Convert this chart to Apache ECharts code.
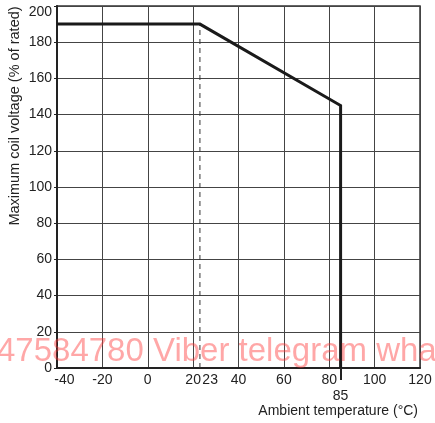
<!DOCTYPE html>
<html>
<head>
<meta charset="utf-8">
<script src="https://cdn.jsdelivr.net/npm/echarts@6/dist/echarts.min.js"></script>
<style>
html,body{margin:0;padding:0;background:#fff;}
#c{width:435px;height:423px;}
</style>
</head>
<body>
<div id="c"></div>
<script>
// ---- data ----
var tempPoints = [-40, 23, 85, 85];          // ambient temperature (°C)
var voltagePoints = [190, 190, 145, 0];      // max coil voltage (% of rated)
var kneeTemp = 23;
var kneeVoltage = 190;
var xTickLabels = [-40, -20, 0, 20, 23, 40, 60, 80, 85, 100, 120];
var xExtraTicks = [85];
var yTickLabels = [0, 20, 40, 60, 80, 100, 120, 140, 160, 180, 200];
var xTitle = 'Ambient temperature (°C)';
var yTitle = 'Maximum coil voltage (% of rated)';
var watermark = '47584780 Viber telegram whatsapp';

var curve = tempPoints.map(function (t, i) { return [t, voltagePoints[i]]; });
var dashed = [[kneeTemp, 0], [kneeTemp, kneeVoltage]];

var FONT = '"Liberation Sans", Arial, Helvetica, sans-serif';
var TXT = '#222';
var chart = echarts.init(document.getElementById('c'), null, {renderer: 'canvas'});
chart.setOption({
  animation: false,
  backgroundColor: '#fff',
  title: {
    text: xTitle, right: 17, top: 404, padding: 0,
    textStyle: {fontSize: 14, fontWeight: 'normal', color: TXT, fontFamily: FONT}
  },
  grid: {left: 57, right: 15, top: 6, bottom: 55, show: true, borderColor: '#333', borderWidth: 1.5,
         containLabel: false, outerBoundsMode: 'none'},
  xAxis: [
    {
      type: 'value', min: -40, max: 120, interval: 20,
      axisLine: {show: true, onZero: false, lineStyle: {color: '#222', width: 2}},
      axisTick: {show: false},
      axisLabel: {
        customValues: xTickLabels, margin: 4, fontSize: 14, color: TXT, fontFamily: FONT, lineHeight: 16,
        formatter: function (v) {
          if (v === 85) return '\n85';
          if (v === 23) return '{s|23}';
          if (v === -40) return '{m|-40}';
          return String(v);
        },
        rich: {
          s: {width: 36, align: 'right', fontSize: 14, color: TXT, fontFamily: FONT},
          m: {width: 35, align: 'right', fontSize: 14, color: TXT, fontFamily: FONT}
        }
      },
      splitLine: {show: true, lineStyle: {color: '#444', width: 1}}
    },
    {
      type: 'value', min: -40, max: 120, position: 'bottom',
      axisLine: {show: false, onZero: false},
      axisTick: {show: true, customValues: xExtraTicks, length: 12, lineStyle: {color: '#222', width: 2}},
      axisLabel: {show: false},
      splitLine: {show: false}
    }
  ],
  yAxis: {
    type: 'value', min: 0, max: 200, interval: 20,
    axisLine: {show: true, onZero: false, lineStyle: {color: '#222', width: 2}},
    axisTick: {show: true, length: 3, lineStyle: {color: '#222'}},
    axisLabel: {
      margin: 5, fontSize: 14, color: TXT, fontFamily: FONT, lineHeight: 13,
      formatter: function (v) { return v === 200 ? '\n200' : String(v); }
    },
    splitLine: {show: true, lineStyle: {color: '#444', width: 1}}
  },
  graphic: [
    {
      type: 'text', rotation: Math.PI / 2,
      x: 15, y: 116,
      style: {text: yTitle, fontSize: 14.5, fill: TXT, fontFamily: FONT, textAlign: 'center', textVerticalAlign: 'middle'}
    },
    {
      type: 'text', z: 100, silent: true,
      x: -3, y: 352,
      style: {text: watermark, fontSize: 33, fill: 'rgba(255,60,60,0.45)', fontFamily: FONT, textVerticalAlign: 'middle'}
    }
  ],
  series: [
    {
      type: 'line', data: dashed, symbol: 'none', silent: true, z: 3,
      lineStyle: {color: '#333', width: 1, type: [5, 4]}
    },
    {
      type: 'line', data: curve, symbol: 'none', silent: true, z: 4,
      lineStyle: {color: '#1a1a1a', width: 3, join: 'miter'}
    }
  ]
});
</script>
</body>
</html>
